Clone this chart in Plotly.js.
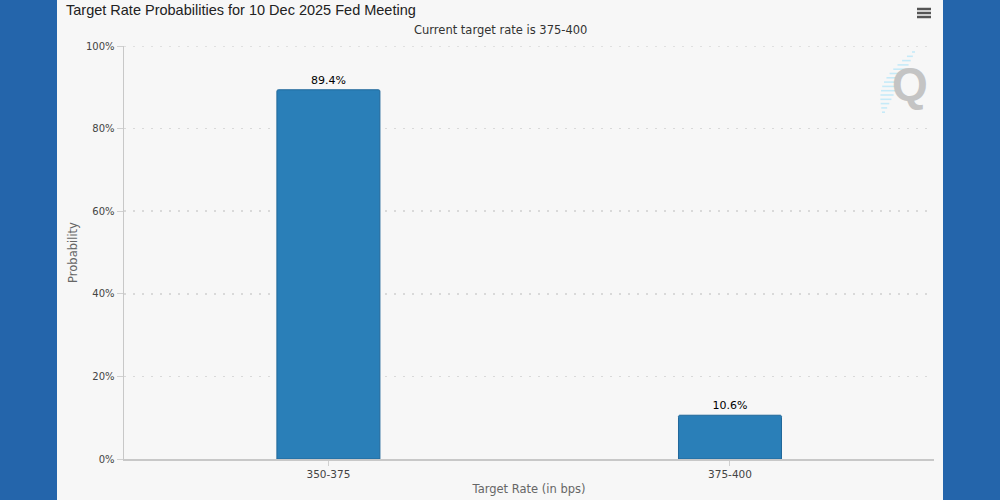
<!DOCTYPE html>
<html>
<head>
<meta charset="utf-8">
<script src="https://cdn.plot.ly/plotly-3.0.1.min.js"></script>
<style>
html,body{margin:0;padding:0;background:#2465ab;width:1000px;height:500px;overflow:hidden;}
#chart{position:absolute;left:57px;top:0;width:886px;height:500px;background:#f7f7f7;}
</style>
</head>
<body>
<div id="chart"></div>
<script>
const categories = ["350-375", "375-400"];
const probabilities = [89.4, 10.6];
const labels = ["89.4%", "10.6%"];
const yTickVals = [0, 20, 40, 60, 80, 100];
const yTickText = ["0%", "20%", "40%", "60%", "80%", "100%"];

const font = "DejaVu Sans, Verdana, sans-serif";

const trace = {
  type: "bar",
  x: categories,
  y: probabilities,
  text: labels,
  textposition: "outside",
  cliponaxis: false,
  textfont: {family: font, size: 11, color: "#000"},
  width: 0.2565,
  marker: {color: "#2a7fb8", line: {color: "#21689a", width: 1}, cornerradius: 2},
  hoverinfo: "x+y"
};

// helpers: page pixel -> paper coords (plot area 124..934 x, 46..459 y)
function px(x) { return (x - 124) / 810; }
function py(y) { return (459 - y) / 413; }

const shapes = [];
// top gridline at the axis maximum (Plotly skips the edge gridline)
shapes.push({type: "line", xref: "paper", yref: "y", layer: "below",
  x0: 0, x1: 1, y0: yTickVals[yTickVals.length - 1], y1: yTickVals[yTickVals.length - 1],
  line: {color: "#d9d9d9", width: 1.5, dash: "2px,7px"}});
// hamburger icon
[9, 13, 17].forEach(function (yy) {
  shapes.push({type: "line", xref: "paper", yref: "paper",
    x0: px(917), x1: px(931), y0: py(yy), y1: py(yy),
    line: {color: "#555", width: 2.5}});
});
// watermark streaks
const nStreak = 15;
for (let i = 0; i < nStreak; i++) {
  const yy = 52 + i * 4.3;
  const t = i / (nStreak - 1);
  const xr = 915 - t * 30;
  const len = 3 + 13 * Math.sin(Math.PI * t);
  shapes.push({type: "line", xref: "paper", yref: "paper",
    x0: px(xr - len), x1: px(xr), y0: py(yy), y1: py(yy),
    line: {color: "#c6eaf8", width: 1.6}});
}

const layout = {
  width: 886, height: 500,
  paper_bgcolor: "#f7f7f7", plot_bgcolor: "#f7f7f7",
  margin: {l: 67, r: 9, t: 46, b: 41},
  showlegend: false,
  bargap: 0,
  title: {
    text: "Target Rate Probabilities for 10 Dec 2025 Fed Meeting",
    font: {family: "Arial, Liberation Sans, sans-serif", size: 14.5, color: "#222"},
    xref: "container", x: 9 / 886, xanchor: "left",
    yref: "container", y: 1 - 10 / 500, yanchor: "middle"
  },
  xaxis: {
    type: "category",
    range: [-0.509, 1.508],
    showline: true, linecolor: "#c8c8c8", linewidth: 1.5,
    ticks: "outside", ticklen: 5, tickcolor: "#d0d0d0",
    tickfont: {family: font, size: 10.5, color: "#444"},
    showgrid: false, zeroline: false,
    title: {text: "Target Rate (in bps)", font: {family: font, size: 11.5, color: "#666"}, standoff: 6}
  },
  yaxis: {
    range: [0, 100],
    tickvals: yTickVals, ticktext: yTickText,
    showline: true, linecolor: "#c8c8c8", linewidth: 1.5,
    ticks: "outside", ticklen: 6, tickcolor: "#d0d0d0",
    tickfont: {family: font, size: 10, color: "#444"},
    showgrid: true, gridcolor: "#d9d9d9", griddash: "2px,7px", gridwidth: 1.5,
    zeroline: false,
    title: {text: "Probability", font: {family: font, size: 11.5, color: "#666"}, standoff: 6}
  },
  annotations: [
    {text: "Current target rate is 375-400", xref: "paper", yref: "paper",
     x: px(500), y: py(30), xanchor: "center", yanchor: "middle",
     showarrow: false, font: {family: font, size: 11.5, color: "#333"}},
    {text: "<b>Q</b>", xref: "paper", yref: "paper",
     x: px(910), y: py(84), xanchor: "center", yanchor: "middle",
     showarrow: false, font: {family: "Arial, Liberation Sans, sans-serif", size: 46, color: "#c4c4c4"}}
  ],
  shapes: shapes
};

Plotly.newPlot("chart", [trace], layout, {displayModeBar: false, staticPlot: true});
</script>
</body>
</html>
